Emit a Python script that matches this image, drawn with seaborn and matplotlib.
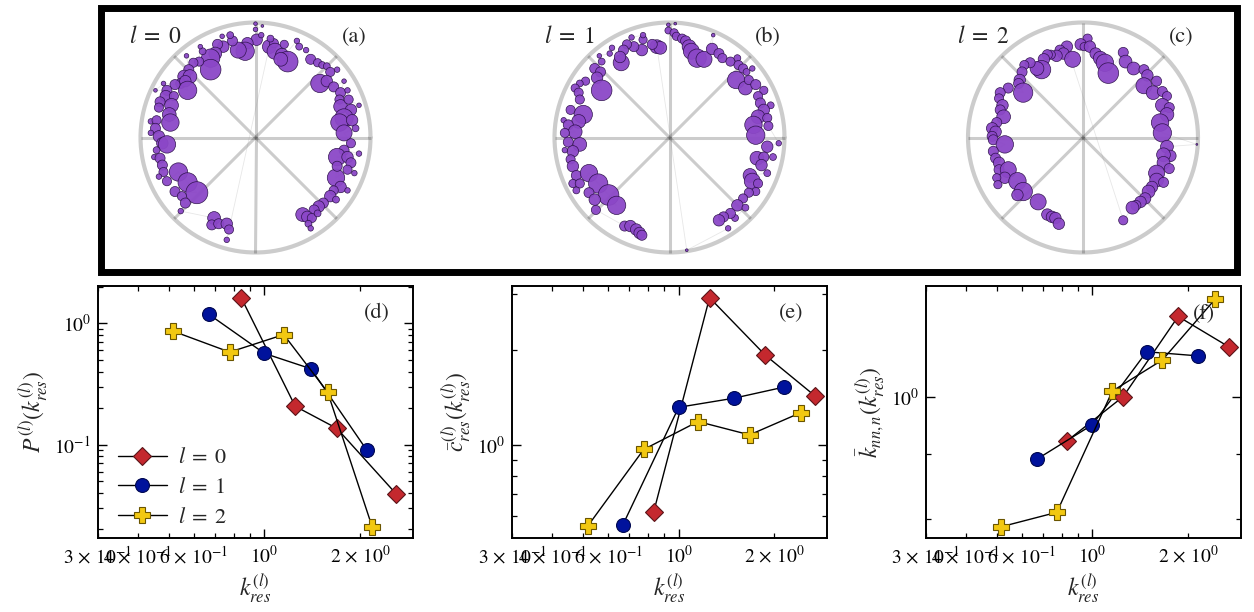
import numpy as np
import matplotlib
matplotlib.use("Agg")
import matplotlib.pyplot as plt
import matplotlib.ticker as mticker
from matplotlib.patches import Rectangle
import seaborn as sns

# ---------------------------------------------------------------------------
# Node embeddings on the Poincare disk for each layer: (x, y, node weight)
# ---------------------------------------------------------------------------
nodes_l0 = [
    (0.0, 0.99, 8), (0.06, 0.97, 6), (0.0, 0.94, 10), (0.01, 0.85, 25), (0.05, 0.89, 12),
    (-0.07, 0.82, 25), (-0.09, 0.75, 40), (-0.15, 0.76, 35), (-0.2, 0.84, 22), (-0.22, 0.89, 15),
    (-0.29, 0.88, 10), (-0.28, 0.79, 25), (-0.33, 0.81, 22), (-0.35, 0.73, 28), (-0.39, 0.69, 40),
    (-0.39, 0.59, 45), (-0.46, 0.75, 15), (-0.48, 0.79, 10), (-0.49, 0.66, 20), (-0.54, 0.65, 20),
    (-0.6, 0.71, 10), (-0.58, 0.59, 22), (-0.62, 0.53, 28), (-0.57, 0.53, 30), (-0.65, 0.47, 22),
    (-0.61, 0.49, 25), (-0.59, 0.41, 40), (-0.7, 0.46, 22), (-0.8, 0.47, 10), (-0.87, 0.41, 8),
    (-0.77, 0.41, 22), (-0.78, 0.36, 25), (-0.83, 0.31, 22), (-0.71, 0.36, 20), (-0.73, 0.28, 30),
    (-0.84, 0.26, 20), (-0.75, 0.2, 30), (-0.74, 0.13, 38), (-0.91, 0.14, 12), (-0.86, 0.15, 20),
    (-0.87, 0.08, 22), (-0.91, 0.04, 12), (-0.84, 0.01, 25), (-0.81, -0.05, 25), (-0.77, -0.06, 38),
    (-0.86, -0.11, 15), (-0.88, -0.17, 12), (-0.83, -0.18, 22), (-0.81, -0.24, 22), (-0.8, -0.3, 20),
    (-0.84, -0.34, 12), (-0.77, -0.38, 20), (-0.67, -0.3, 40), (-0.59, -0.39, 42), (-0.51, -0.48, 48),
    (-0.7, -0.47, 22), (-0.64, -0.51, 20), (-0.61, -0.57, 22), (-0.65, -0.64, 12),
    (-0.36, -0.7, 28), (-0.38, -0.76, 22), (-0.32, -0.75, 22), (-0.25, -0.75, 25), (-0.23, -0.8, 20),
    (-0.25, -0.89, 12),
    (0.12, 0.79, 30), (0.16, 0.82, 20), (0.13, 0.86, 15), (0.17, 0.75, 35), (0.23, 0.72, 28),
    (0.25, 0.81, 18), (0.28, 0.66, 45), (0.22, 0.68, 30), (0.36, 0.84, 12), (0.38, 0.79, 15),
    (0.44, 0.76, 12), (0.48, 0.68, 22), (0.54, 0.65, 18), (0.58, 0.63, 15), (0.62, 0.62, 15),
    (0.65, 0.57, 20), (0.71, 0.59, 12), (0.56, 0.47, 40), (0.62, 0.49, 25), (0.68, 0.44, 22),
    (0.77, 0.49, 10), (0.74, 0.39, 22), (0.8, 0.41, 12), (0.73, 0.33, 20), (0.74, 0.27, 30),
    (0.81, 0.33, 20), (0.9, 0.28, 10), (0.83, 0.24, 25), (0.77, 0.17, 40), (0.73, 0.13, 38),
    (0.84, 0.15, 25), (0.87, 0.08, 15), (0.77, 0.04, 35), (0.83, -0.05, 20), (0.77, -0.11, 22),
    (0.9, -0.14, 12), (0.71, -0.17, 38), (0.8, -0.17, 25), (0.83, -0.22, 22), (0.86, -0.31, 12),
    (0.8, -0.28, 20), (0.7, -0.35, 38), (0.71, -0.25, 22), (0.74, -0.43, 25), (0.68, -0.46, 20),
    (0.8, -0.46, 12), (0.65, -0.51, 25), (0.7, -0.54, 15), (0.59, -0.57, 22), (0.55, -0.6, 25),
    (0.51, -0.63, 22), (0.41, -0.67, 30), (0.45, -0.69, 25), (0.49, -0.7, 20), (0.46, -0.75, 15),
    (0.48, -0.79, 12), (0.54, -0.66, 15),
]

nodes_l1 = [
    (-0.01, 0.98, 8), (0.05, 0.99, 6), (-0.01, 0.93, 15), (0.04, 0.91, 18), (0.06, 0.88, 18),
    (0.11, 0.86, 20), (0.14, 0.84, 22), (0.17, 0.79, 30), (0.19, 0.75, 35), (0.24, 0.69, 40),
    (0.3, 0.68, 35), (0.38, 0.89, 8), (0.37, 0.77, 25), (0.43, 0.73, 22), (0.46, 0.69, 20),
    (0.53, 0.66, 20), (0.59, 0.69, 15), (0.6, 0.63, 20), (0.64, 0.6, 20), (0.67, 0.57, 15),
    (0.72, 0.6, 12), (0.58, 0.5, 38), (0.66, 0.43, 30), (0.69, 0.5, 20), (0.75, 0.46, 22),
    (0.82, 0.41, 18), (0.77, 0.36, 20), (0.79, 0.3, 22), (0.88, 0.28, 15), (0.82, 0.24, 25),
    (0.77, 0.18, 30), (0.85, 0.17, 20), (0.73, 0.11, 38), (0.75, 0.02, 40), (0.86, 0.1, 20),
    (0.95, -0.05, 12), (0.85, -0.08, 25), (0.76, -0.18, 30), (0.82, -0.17, 22), (0.9, -0.17, 15),
    (0.8, -0.24, 25), (0.85, -0.31, 15), (0.7, -0.33, 30), (0.72, -0.38, 35), (0.77, -0.4, 20),
    (0.75, -0.47, 18), (0.69, -0.48, 20), (0.64, -0.53, 20), (0.59, -0.59, 25), (0.66, -0.61, 15),
    (0.57, -0.7, 15), (0.53, -0.66, 22), (0.47, -0.69, 22), (0.43, -0.72, 25), (0.51, -0.79, 12),
    (0.15, -0.98, 6),
    (-0.11, 0.79, 30), (-0.08, 0.78, 28), (-0.15, 0.81, 22), (-0.24, 0.76, 25), (-0.23, 0.85, 18),
    (-0.23, 0.89, 12), (-0.33, 0.87, 12), (-0.31, 0.79, 22), (-0.37, 0.81, 20), (-0.4, 0.76, 22),
    (-0.42, 0.65, 35), (-0.43, 0.7, 25), (-0.5, 0.78, 12), (-0.52, 0.73, 12), (-0.61, 0.71, 10),
    (-0.59, 0.66, 15), (-0.65, 0.6, 22), (-0.6, 0.57, 22), (-0.63, 0.52, 25), (-0.59, 0.41, 45),
    (-0.73, 0.49, 18), (-0.78, 0.47, 15), (-0.82, 0.43, 18), (-0.79, 0.39, 20), (-0.78, 0.33, 20),
    (-0.86, 0.24, 20), (-0.75, 0.2, 40), (-0.79, 0.14, 30), (-0.92, 0.15, 12), (-0.88, 0.11, 22),
    (-0.82, 0.05, 30), (-0.91, 0.04, 20), (-0.88, -0.04, 22), (-0.78, -0.06, 30), (-0.84, -0.12, 25),
    (-0.91, -0.11, 12), (-0.86, -0.19, 20), (-0.84, -0.25, 25), (-0.81, -0.33, 22), (-0.84, -0.4, 18),
    (-0.78, -0.4, 20), (-0.81, -0.46, 15), (-0.7, -0.31, 38), (-0.62, -0.4, 42), (-0.53, -0.5, 45),
    (-0.46, -0.59, 40), (-0.7, -0.48, 22), (-0.65, -0.54, 25), (-0.64, -0.63, 20),
    (-0.39, -0.77, 22), (-0.34, -0.77, 25), (-0.29, -0.8, 25), (-0.26, -0.83, 25), (-0.24, -0.85, 22),
]

nodes_l2 = [
    (0.04, 0.86, 20), (-0.02, 0.81, 25), (0.01, 0.79, 18), (0.06, 0.79, 25), (0.11, 0.73, 25),
    (0.15, 0.69, 30), (0.19, 0.65, 38), (0.22, 0.56, 45), (0.35, 0.74, 22), (0.37, 0.66, 28),
    (0.44, 0.6, 28), (0.53, 0.59, 22), (0.56, 0.54, 25), (0.64, 0.49, 22), (0.53, 0.45, 35),
    (0.61, 0.39, 30), (0.69, 0.4, 22), (0.73, 0.36, 20), (0.69, 0.28, 30), (0.75, 0.26, 22),
    (0.73, 0.2, 30), (0.67, 0.13, 38), (0.69, 0.04, 40), (0.99, -0.06, 4), (0.73, -0.08, 28),
    (0.76, -0.16, 25), (0.7, -0.15, 30), (0.7, -0.22, 28), (0.75, -0.27, 22), (0.64, -0.31, 35),
    (0.64, -0.37, 30), (0.7, -0.39, 22), (0.6, -0.43, 25), (0.57, -0.47, 28), (0.54, -0.53, 25),
    (0.5, -0.56, 25), (0.46, -0.59, 22), (0.43, -0.61, 28), (0.35, -0.72, 20),
    (-0.14, 0.79, 25), (-0.2, 0.76, 22), (-0.17, 0.73, 25), (-0.09, 0.68, 35), (-0.23, 0.71, 25),
    (-0.28, 0.72, 20), (-0.31, 0.72, 22), (-0.34, 0.68, 25), (-0.36, 0.59, 40), (-0.4, 0.6, 30),
    (-0.46, 0.65, 22), (-0.51, 0.63, 20), (-0.53, 0.57, 22), (-0.55, 0.5, 25), (-0.56, 0.47, 22),
    (-0.52, 0.39, 42), (-0.65, 0.43, 22), (-0.72, 0.39, 22), (-0.73, 0.34, 20), (-0.7, 0.28, 25),
    (-0.72, 0.24, 22), (-0.69, 0.18, 30), (-0.75, 0.13, 22), (-0.79, 0.08, 25), (-0.76, 0.05, 25),
    (-0.79, 0.01, 22), (-0.78, -0.02, 22), (-0.68, -0.06, 38), (-0.78, -0.12, 22), (-0.76, -0.18, 22),
    (-0.73, -0.22, 25), (-0.73, -0.28, 22), (-0.65, -0.28, 35), (-0.68, -0.35, 25), (-0.75, -0.35, 18),
    (-0.74, -0.41, 18), (-0.57, -0.38, 38), (-0.52, -0.47, 40), (-0.57, -0.5, 25), (-0.39, -0.56, 35),
    (-0.31, -0.67, 25), (-0.27, -0.69, 25), (-0.24, -0.7, 25), (-0.21, -0.75, 25),
]

layer_nodes = [nodes_l0, nodes_l1, nodes_l2]
layer_tags = [r"$l\;=\;0$", r"$l\;=\;1$", r"$l\;=\;2$"]
panel_tags_top = ["(a)", "(b)", "(c)"]

# ---------------------------------------------------------------------------
# Degree-class statistics per layer
# ---------------------------------------------------------------------------
# (d) degree distribution
k_d0 = [0.845, 1.25, 1.69, 2.60]
p_d0 = [1.63, 0.207, 0.136, 0.039]
k_d1 = [0.668, 1.0, 1.40, 2.10]
p_d1 = [1.19, 0.565, 0.422, 0.0897]
k_d2 = [0.518, 0.778, 1.15, 1.58, 2.18]
p_d2 = [0.859, 0.579, 0.807, 0.271, 0.0211]

# (e) clustering spectrum
k_e0 = [0.834, 1.25, 1.87, 2.69]
c_e0 = [0.615, 2.93, 1.93, 1.43]
k_e1 = [0.667, 1.0, 1.49, 2.15]
c_e1 = [0.56, 1.32, 1.41, 1.53]
k_e2 = [0.517, 0.776, 1.15, 1.67, 2.42]
c_e2 = [0.555, 0.971, 1.19, 1.08, 1.27]

# (f) average nearest-neighbour degree
k_f0 = [0.835, 1.25, 1.86, 2.68]
n_f0 = [0.923, 1.0, 1.157, 1.095]
k_f1 = [0.668, 1.0, 1.48, 2.14]
n_f1 = [0.892, 0.950, 1.085, 1.077]
k_f2 = [0.517, 0.773, 1.155, 1.66, 2.43]
n_f2 = [0.789, 0.810, 1.01, 1.069, 1.194]

series_labels = [r"$l\;=\;0$", r"$l\;=\;1$", r"$l\;=\;2$"]

# ---------------------------------------------------------------------------
sns.set_style("ticks")
plt.rcParams.update({
    "font.family": ["STIXGeneral", "DejaVu Serif"],
    "mathtext.fontset": "stix",
    "font.size": 14,
    "axes.linewidth": 1.4,
    "xtick.direction": "in",
    "ytick.direction": "in",
    "xtick.top": True,
    "ytick.right": True,
    "xtick.major.size": 6.5,
    "ytick.major.size": 6.5,
    "xtick.minor.size": 3.5,
    "ytick.minor.size": 3.5,
    "xtick.major.width": 1.0,
    "ytick.major.width": 1.0,
    "xtick.minor.width": 0.9,
    "ytick.minor.width": 0.9,
    "xtick.color": "black",
    "ytick.color": "black",
    "axes.edgecolor": "black",
    "xtick.labelsize": 14,
    "ytick.labelsize": 14,
    "xtick.major.pad": 5,
    "ytick.major.pad": 5,
    "xtick.minor.pad": 5,
})


class SpacedSciFormatter(mticker.LogFormatterSciNotation):
    """Log-axis minor labels with a little air around the multiplication sign."""

    def __call__(self, x, pos=None):
        s = super().__call__(x, pos)
        return s.replace(r"\times", r"\,\times\,")


W, H = 1254, 612
fig = plt.figure(figsize=(W / 100, H / 100), dpi=100)

# ---- top row: hyperbolic embeddings -------------------------------------
node_face = "#8b47c7"
node_edge = "#2b0f48"
R_px = 115
half = 1.1 * R_px
centers = [(255.5, 137.5), (669.5, 137.5), (1083, 137.5)]
for (cx, cy), nodes, tag, ptag in zip(centers, layer_nodes, layer_tags, panel_tags_top):
    ax = fig.add_axes([(cx - half) / W, (H - cy - half) / H, 2 * half / W, 2 * half / H])
    ax.set_xlim(-1.1, 1.1)
    ax.set_ylim(-1.1, 1.1)
    ax.set_aspect("equal")
    ax.axis("off")

    theta = np.linspace(0, 2 * np.pi, 500)
    ax.plot(np.cos(theta), np.sin(theta), color="black", alpha=0.2, lw=3.0, zorder=1)
    for ang in np.arange(8) * np.pi / 4:
        ax.plot([0, np.cos(ang)], [0, np.sin(ang)], color="black", alpha=0.2, lw=2.2,
                solid_capstyle="butt", zorder=1)

    xs = np.array([n[0] for n in nodes])
    ys = np.array([n[1] for n in nodes])
    ws = np.array([n[2] for n in nodes], dtype=float)
    area = (0.33 * ws) ** 2

    # faint links between neighbouring nodes
    ax.plot(xs, ys, color="#888888", alpha=0.2, lw=0.6, zorder=2)

    sns.scatterplot(x=xs, y=ys, size=area, sizes=(area.min(), area.max()),
                    size_norm=(area.min(), area.max()), color=node_face,
                    edgecolor=node_edge, linewidth=0.5, alpha=0.95,
                    legend=False, ax=ax, zorder=3)
    ax.text(-0.87, 0.875, tag, ha="center", va="center", fontsize=17)
    ax.text(0.857, 0.875, ptag, ha="center", va="center", fontsize=16)

fig.add_artist(Rectangle((101 / W, 1 - 271.5 / H), (1236.5 - 101) / W, (271.5 - 7.5) / H,
                         transform=fig.transFigure, fill=False, lw=5, ec="black"))

# ---- bottom row: statistics --------------------------------------------
styles = [
    dict(marker="D", markerfacecolor="#c4282e", markeredgecolor="#5a1418", markersize=9),
    dict(marker="o", markerfacecolor="#00129c", markeredgecolor="#000850", markersize=10),
    dict(marker="P", markerfacecolor="#f2c812", markeredgecolor="#6a5500", markersize=11),
]

panels = [
    ([(k_d0, p_d0), (k_d1, p_d1), (k_d2, p_d2)], r"$P^{(l)}(k_{res}^{(l)})$", "(d)", (0.017, 2.03)),
    ([(k_e0, c_e0), (k_e1, c_e1), (k_e2, c_e2)], r"$\bar{c}_{res}^{(l)}(k_{res}^{(l)})$", "(e)", (0.51, 3.19)),
    ([(k_f0, n_f0), (k_f1, n_f1), (k_f2, n_f2)], r"$\bar{k}_{nn,n}(k_{res}^{(l)})$", "(f)", (0.773, 1.223)),
]
lefts = [98, 512.3, 926]
ax_w, ax_top, ax_bot = 314.5, 286, 538

for i, ((series, ylab, ptag, ylim), left) in enumerate(zip(panels, lefts)):
    ax = fig.add_axes([left / W, (H - ax_bot) / H, ax_w / W, (ax_bot - ax_top) / H])
    for (kx, vy), st, lab in zip(series, styles, series_labels):
        sns.lineplot(x=kx, y=vy, color="black", lw=1.0, markeredgewidth=0.8,
                     label=lab, legend=False, ax=ax, **st)
    ax.set(xscale="log", yscale="log")
    ax.set_xlim(0.3, 2.92)
    ax.set_ylim(*ylim)
    ax.xaxis.set_minor_formatter(SpacedSciFormatter(labelOnlyBase=False,
                                                    minor_thresholds=(1, 0.4)))
    ax.yaxis.set_minor_formatter(mticker.NullFormatter())
    ax.set_xlabel(r"$k_{res}^{(l)}$", fontsize=17, labelpad=4)
    ax.set_ylabel(ylab, fontsize=17, labelpad=3)
    ax.text(0.885, 0.893, ptag, transform=ax.transAxes, ha="center", va="center", fontsize=16)
    if i == 0:
        ax.legend(loc="lower left", bbox_to_anchor=(0.0, -0.04), frameon=False,
                  handlelength=2.2, handletextpad=0.5, labelspacing=0.42, fontsize=16)

fig.savefig("out.png", dpi=100)
